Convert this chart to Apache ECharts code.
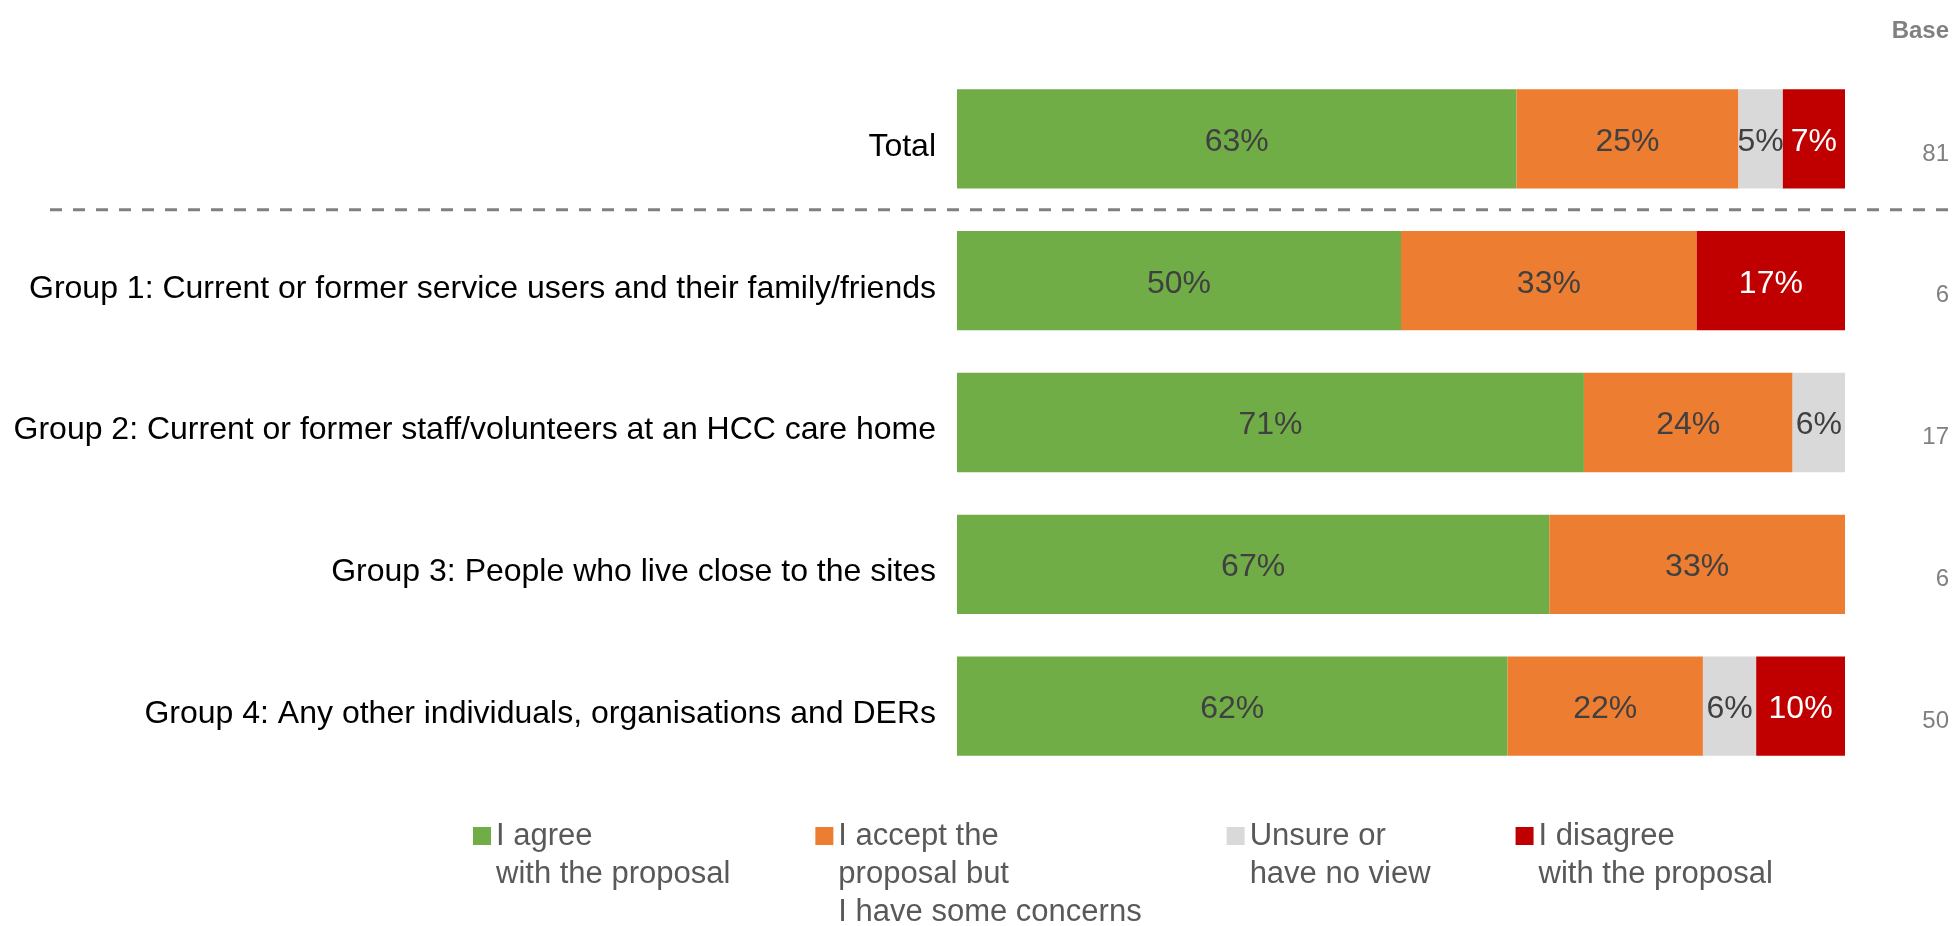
<!DOCTYPE html>
<html>
<head>
<meta charset="utf-8">
<script src="https://cdn.jsdelivr.net/npm/echarts@6/dist/echarts.min.js"></script>
<style>
  html, body { margin: 0; padding: 0; background: #fff; }
  #main { width: 1959px; height: 926px; }
</style>
</head>
<body>
<div id="main"></div>
<script>
// categories, top to bottom
const categories = [
  'Total',
  'Group 1: Current or former service users and their family/friends',
  'Group 2: Current or former staff/volunteers at an HCC care home',
  'Group 3: People who live close to the sites',
  'Group 4: Any other individuals, organisations and DERs'
];
const baseCounts = [81, 6, 17, 6, 50];

// share of respondents (%)
const agree = [63, 50, 70.6, 66.7, 62];
const acceptConcerns = [25, 33.3, 23.5, 33.3, 22];
const unsure = [5, 0, 5.9, 0, 6];
const disagree = [7, 16.7, 0, 0, 10];

const seriesNames = [
  'I agree\nwith the proposal',
  'I accept the\nproposal but\nI have some concerns',
  'Unsure or\nhave no view',
  'I disagree\nwith the proposal'
];
const colors = ['#70AD47', '#ED7D31', '#D9D9D9', '#C00000'];
const labelColors = ['#404040', '#404040', '#404040', '#ffffff'];
const FONT = '"Liberation Sans", Arial, sans-serif';

const chart = echarts.init(document.getElementById('main'));

function makeSeries(name, data, i) {
  return {
    name: name,
    type: 'bar',
    stack: 'all',
    yAxisIndex: 0,
    barCategoryGap: '30%',
    itemStyle: { color: colors[i] },
    label: {
      show: true,
      position: 'inside',
      offset: [0, 3],
      fontFamily: FONT,
      fontSize: 32,
      color: labelColors[i],
      formatter: (p) => (p.value > 0 ? Math.round(p.value) + '%' : '')
    },
    emphasis: { disabled: true },
    data: data
  };
}

const option = {
  animation: false,
  textStyle: { fontFamily: FONT },
  title: {
    text: 'Base',
    right: 5,
    top: 14,
    textStyle: { fontFamily: FONT, fontSize: 24, fontWeight: 'bold', color: '#808080' }
  },
  legend: {
    left: 473,
    top: 741,
    padding: 0,
    itemGap: 85,
    itemWidth: 18,
    itemHeight: 18,
    icon: 'rect',
    selectedMode: false,
    textStyle: { fontFamily: FONT, fontSize: 31, color: '#595959', lineHeight: 38 },
    // pad with empty lines above so the first line sits level with the icon
    formatter: (name) => '\n'.repeat(name.split('\n').length - 1) + name,
    data: seriesNames
  },
  grid: { left: 957, right: 114, top: 68, bottom: 149 },
  xAxis: {
    type: 'value',
    min: 0,
    max: 100,
    show: false
  },
  yAxis: [
    {
      type: 'category',
      inverse: true,
      data: categories,
      axisLine: { show: false },
      axisTick: { show: false },
      axisLabel: {
        margin: 21,
        fontFamily: FONT,
        fontSize: 32,
        color: '#000000',
        verticalAlign: 'top',
        lineHeight: 16
      }
    },
    {
      type: 'category',
      inverse: true,
      position: 'right',
      data: categories,
      axisLine: { show: false },
      axisTick: { show: false },
      axisLabel: {
        margin: 104,
        align: 'right',
        verticalAlign: 'top',
        lineHeight: 30,
        fontFamily: FONT,
        fontSize: 24,
        color: '#808080',
        formatter: (v, i) => String(baseCounts[i])
      }
    }
  ],
  series: [
    makeSeries(seriesNames[0], agree, 0),
    makeSeries(seriesNames[1], acceptConcerns, 1),
    makeSeries(seriesNames[2], unsure, 2),
    makeSeries(seriesNames[3], disagree, 3)
  ]
};

chart.setOption(option);

// dashed divider between Total and the groups
const yTotal = chart.convertToPixel({ yAxisIndex: 0 }, categories[0]);
const yFirst = chart.convertToPixel({ yAxisIndex: 0 }, categories[1]);
const yDiv = (yTotal + yFirst) / 2;
chart.setOption({
  graphic: [{
    type: 'line',
    shape: { x1: 50, y1: yDiv, x2: 1959, y2: yDiv },
    style: { stroke: '#808080', lineWidth: 3, lineDash: [12, 11] },
    silent: true
  }]
});
</script>
</body>
</html>
